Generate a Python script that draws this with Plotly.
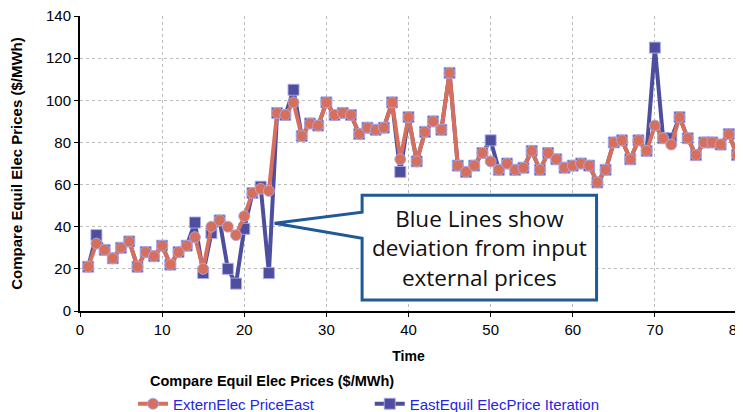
import plotly.graph_objects as go

time = list(range(1, 81))
extern_price_east = [21, 32, 29, 25, 30, 33, 21, 28, 26, 31,
                     22, 28, 31, 35, 20, 40, 43, 40, 36, 45,
                     56, 58, 57, 94, 93, 99, 83, 89, 88, 99,
                     93, 94, 93, 84, 87, 86, 87, 99, 72, 92,
                     71, 85, 90, 86, 113, 69, 66, 69, 75, 71,
                     67, 70, 67, 68, 76, 67, 75, 72, 68, 69,
                     70, 69, 61, 67, 80, 81, 72, 81, 76, 88,
                     82, 79, 92, 82, 74, 80, 80, 79, 84, 74]
east_equil_iteration = [21, 36, 29, 25, 30, 33, 21, 28, 26, 31,
                        22, 28, 31, 42, 18, 37, 43, 20, 13, 39,
                        56, 59, 18, 94, 93, 105, 83, 89, 88, 99,
                        93, 94, 93, 84, 87, 86, 87, 99, 66, 92,
                        71, 85, 90, 86, 113, 69, 66, 69, 75, 81,
                        67, 70, 67, 68, 76, 67, 75, 72, 68, 69,
                        70, 69, 61, 67, 80, 81, 72, 81, 76, 125,
                        82, 82, 92, 82, 74, 80, 80, 79, 84, 74]

callout_text = "Blue Lines show<br>deviation from input<br>external prices"
legend_title = "<b>Compare Equil Elec Prices ($/MWh)</b>"

RED = "#D6705C"
BLUE = "#4E4E9E"
EDGE = "rgba(170,170,235,0.9)"
LEG_TXT = "#2525DD"

fig = go.Figure()
fig.add_trace(go.Scatter(
    x=time, y=east_equil_iteration, mode="lines+markers",
    name="EastEquil ElecPrice Iteration", legend="legend2",
    line=dict(color=BLUE, width=4),
    marker=dict(symbol="square", size=11, color=BLUE, line=dict(color=EDGE, width=1)),
))
fig.add_trace(go.Scatter(
    x=time, y=extern_price_east, mode="lines+markers",
    name="ExternElec PriceEast", legend="legend",
    line=dict(color=RED, width=4),
    marker=dict(symbol="circle", size=11, color=RED, line=dict(color=EDGE, width=1)),
))

# callout box with pointer
bx0, bx1, by0, by1 = 34.35, 62.9, 5.2, 54.9
tipx, tipy = 23.7, 41.6
path = (f"M {bx0},{by1} L {bx1},{by1} L {bx1},{by0} L {bx0},{by0} "
        f"L {bx0},34.5 L {tipx},{tipy} L {bx0},46.9 Z")
fig.add_shape(type="path", path=path, xref="x", yref="y",
              fillcolor="white", line=dict(color="#1F5A96", width=3), layer="above")
fig.add_annotation(x=(bx0 + bx1) / 2, y=(by0 + by1) / 2, xref="x", yref="y",
                   text=callout_text, showarrow=False,
                   font=dict(family="Open Sans, Lato, sans-serif", size=22.5, color="#111111"),
                   align="center")

# legend title
fig.add_annotation(x=0.1035, y=0.0965, xref="paper", yref="paper",
                   xanchor="left", yanchor="middle", showarrow=False,
                   text=legend_title, font=dict(size=14.5, color="black"))

H = 412 - 8
PLOT_BOTTOM = (412 - 303) / H

fig.update_layout(
    width=743, height=412,
    margin=dict(l=72, r=14, t=8, b=0, autoexpand=False),
    plot_bgcolor="white", paper_bgcolor="white",
    font=dict(family="Liberation Sans, Arial, sans-serif", size=14, color="black"),
    showlegend=True,
    legend=dict(
        orientation="h", x=0.0807, xanchor="left", y=0.0396, yanchor="middle",
        font=dict(size=15, color=LEG_TXT),
        itemwidth=30, bgcolor="rgba(0,0,0,0)",
    ),
    legend2=dict(
        orientation="h", x=0.441, xanchor="left", y=0.0396, yanchor="middle",
        font=dict(size=15, color=LEG_TXT),
        itemwidth=30, bgcolor="rgba(0,0,0,0)",
    ),
)
fig.update_xaxes(
    range=[0, 80], dtick=10, tick0=0,
    showgrid=True, gridcolor="#BBBBBB", griddash="dot", gridwidth=1,
    showline=True, linecolor="black", linewidth=2,
    ticks="outside", ticklen=4, tickcolor="black",
    tickfont=dict(size=15), ticklabeloverflow="allow",
    title=dict(text="<b>Time</b>", font=dict(size=14), standoff=14),
    zeroline=False, automargin=False,
)
fig.update_yaxes(
    domain=[PLOT_BOTTOM, 1],
    range=[0, 140], dtick=20, tick0=0,
    showgrid=True, gridcolor="#BBBBBB", griddash="dot", gridwidth=1,
    showline=True, linecolor="black", linewidth=2,
    ticks="outside", ticklen=4, tickcolor="black",
    tickfont=dict(size=15), ticklabeloverflow="allow",
    title=dict(text="<b>Compare Equil Elec Prices ($/MWh)</b>", font=dict(size=15), standoff=21),
    zeroline=False, automargin=False,
)

fig.write_html("out.html")
